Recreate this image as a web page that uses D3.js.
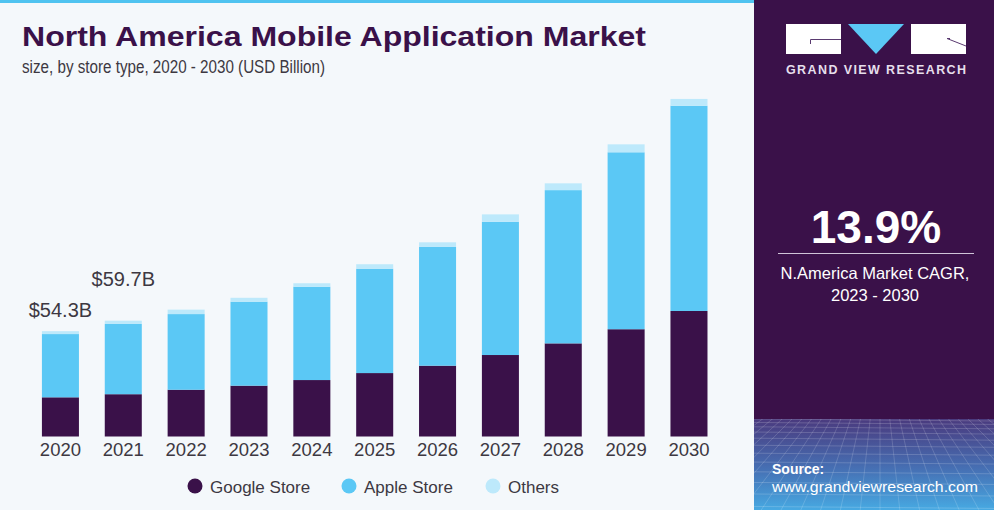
<!DOCTYPE html>
<html>
<head>
<meta charset="utf-8">
<script src="https://cdn.jsdelivr.net/npm/d3@7"></script>
<style>
  html, body { margin: 0; padding: 0; background: #f4f8fb; }
  svg { display: block; font-family: "Liberation Sans", Arial, sans-serif; }
</style>
</head>
<body>
<svg id="chart"></svg>
<script>
// Chart data (USD Billion)
const years = ['2020', '2021', '2022', '2023', '2024', '2025', '2026', '2027', '2028', '2029', '2030'];
const googleStore = [20.2, 21.8, 24.1, 26.2, 29.1, 32.7, 36.5, 42.0, 48.0, 55.3, 64.7];
const appleStore = [32.6, 36.2, 39.0, 43.3, 48.1, 53.8, 61.2, 68.7, 79.0, 91.2, 105.8];
const others = [1.5, 1.7, 2.3, 2.0, 1.8, 2.3, 2.4, 3.8, 3.5, 4.1, 3.5];
const seriesNames = ['Google Store', 'Apple Store', 'Others'];
const valueLabels = [{ year: '2020', text: '$54.3B' }, { year: '2021', text: '$59.7B' }];
const cagrValue = '13.9%';
const cagrText = ['N.America Market CAGR,', '2023 - 2030'];

const width = 994;
const height = 510;
const panelX = 754;
const colors = ['#3a1149', '#5bc8f5', '#bde9fb'];
const textColor = '#3d3842';

const svg = d3.select('#chart')
    .attr('width', width)
    .attr('height', height);

// backgrounds
svg.append('rect').attr('width', panelX).attr('height', height).attr('fill', '#f4f8fb');
svg.append('rect').attr('width', panelX).attr('height', 3).attr('fill', '#4fc3f0');
svg.append('rect').attr('x', panelX).attr('width', width - panelX).attr('height', height).attr('fill', '#3a1149');

// bottom of right panel: gradient + perspective mesh
const defs = svg.append('defs');
const grad = defs.append('linearGradient').attr('id', 'meshGrad').attr('x1', 0).attr('y1', 0).attr('x2', 0).attr('y2', 1);
grad.append('stop').attr('offset', '0%').attr('stop-color', '#4a3a7e');
grad.append('stop').attr('offset', '55%').attr('stop-color', '#4670b4');
grad.append('stop').attr('offset', '100%').attr('stop-color', '#47a9e2');
defs.append('clipPath').attr('id', 'meshClip')
    .append('rect').attr('x', panelX).attr('y', 419).attr('width', width - panelX).attr('height', height - 419);

const mesh = svg.append('g').attr('clip-path', 'url(#meshClip)');
mesh.append('rect').attr('x', panelX).attr('y', 419).attr('width', width - panelX).attr('height', height - 419)
    .attr('fill', 'url(#meshGrad)');
const rows = d3.range(0, 16).map(i => 419 + 3 * i + 0.45 * i * i);
mesh.selectAll('line.h')
    .data(rows)
    .enter()
    .append('line')
    .attr('x1', panelX).attr('x2', width)
    .attr('y1', d => d).attr('y2', d => d + 2)
    .attr('stroke', '#ffffff').attr('stroke-opacity', 0.22).attr('stroke-width', 0.8);
const vanishX = 880, vanishY = 330;
mesh.selectAll('line.v')
    .data(d3.range(-40, 41))
    .enter()
    .append('line')
    .attr('x1', vanishX).attr('y1', vanishY)
    .attr('x2', d => vanishX + d * 22).attr('y2', height + 20)
    .attr('stroke', '#ffffff').attr('stroke-opacity', 0.2).attr('stroke-width', 0.8);

// logo
const logo = svg.append('g');
logo.append('rect').attr('x', 786).attr('y', 24).attr('width', 55).attr('height', 30).attr('fill', '#ffffff');
logo.append('path').attr('d', 'M848,24 L904,24 L876,54 Z').attr('fill', '#5bc8f5');
logo.append('rect').attr('x', 911).attr('y', 24).attr('width', 55).attr('height', 30).attr('fill', '#ffffff');
logo.append('path').attr('d', 'M841,39.5 L810.5,39.5 L810.5,44').attr('fill', 'none').attr('stroke', '#5a3a70').attr('stroke-width', 1);
logo.append('path').attr('d', 'M947,38.5 L966,46 M947,38.5 L950,38.5').attr('fill', 'none').attr('stroke', '#5a3a70').attr('stroke-width', 1);
svg.append('text')
    .attr('x', 876).attr('y', 74)
    .attr('text-anchor', 'middle')
    .attr('fill', '#e6dfec')
    .attr('font-size', 12.5).attr('font-weight', 'bold')
    .attr('textLength', 180).attr('lengthAdjust', 'spacing')
    .text('GRAND VIEW RESEARCH');

// CAGR block
svg.append('text')
    .attr('x', 876).attr('y', 243)
    .attr('text-anchor', 'middle')
    .attr('fill', '#ffffff')
    .attr('font-size', 46).attr('font-weight', 'bold')
    .text(cagrValue);
svg.append('line')
    .attr('x1', 778).attr('x2', 974).attr('y1', 253.5).attr('y2', 253.5)
    .attr('stroke', '#cfc4d8').attr('stroke-width', 1.2);
svg.selectAll('text.cagr')
    .data(cagrText)
    .enter()
    .append('text')
    .attr('class', 'cagr')
    .attr('x', 875).attr('y', (d, i) => 278.5 + i * 22.5)
    .attr('text-anchor', 'middle')
    .attr('fill', '#ffffff')
    .attr('font-size', 16.5)
    .text(d => d);

// source
svg.append('text')
    .attr('x', 772).attr('y', 474)
    .attr('fill', '#ffffff').attr('font-size', 14).attr('font-weight', 'bold')
    .text('Source:');
svg.append('text')
    .attr('x', 772).attr('y', 492)
    .attr('fill', '#ffffff').attr('font-size', 14.5)
    .attr('textLength', 206).attr('lengthAdjust', 'spacingAndGlyphs')
    .text('www.grandviewresearch.com');

// title
svg.append('text')
    .attr('x', 22).attr('y', 46)
    .attr('fill', '#3a1149')
    .attr('font-size', 27).attr('font-weight', 900)
    .attr('textLength', 624).attr('lengthAdjust', 'spacingAndGlyphs')
    .text('North America Mobile Application Market');
svg.append('text')
    .attr('x', 22).attr('y', 73)
    .attr('fill', textColor)
    .attr('font-size', 18)
    .attr('font-family', '"Liberation Sans Narrow", "Arial Narrow", sans-serif')
    .attr('textLength', 303).attr('lengthAdjust', 'spacingAndGlyphs')
    .text('size, by store type, 2020 - 2030 (USD Billion)');

// scales
const x = d3.scaleBand()
    .domain(years)
    .range([29, 720.4])
    .paddingInner(0.411)
    .paddingOuter(0.2055);

const y = d3.scaleLinear()
    .domain([0, 180])
    .range([436.5, 436.5 - 180 * 1.94]);

// stack
const table = years.map((yr, i) => ({ year: yr, 'Google Store': googleStore[i], 'Apple Store': appleStore[i], 'Others': others[i] }));
const stacked = d3.stack().keys(seriesNames)(table);

svg.append('g')
    .selectAll('g')
    .data(stacked)
    .enter()
    .append('g')
    .attr('fill', (d, i) => colors[i])
    .selectAll('rect')
    .data(d => d)
    .enter()
    .append('rect')
    .attr('x', d => x(d.data.year))
    .attr('y', d => y(d[1]))
    .attr('width', x.bandwidth())
    .attr('height', d => y(d[0]) - y(d[1]));

// x axis labels
const xAxis = svg.append('g')
    .attr('transform', `translate(0, ${y(0)})`)
    .call(d3.axisBottom(x).tickSize(0).tickPadding(6));
xAxis.select('.domain').remove();
xAxis.selectAll('text')
    .attr('fill', textColor)
    .attr('font-size', 18.5)
    .attr('font-family', '"Liberation Sans", Arial, sans-serif');

// value labels above first bars
const labelGap = [14, 35];
svg.selectAll('text.value')
    .data(valueLabels)
    .enter()
    .append('text')
    .attr('class', 'value')
    .attr('x', d => x(d.year) + x.bandwidth() / 2)
    .attr('y', (d, i) => {
        const idx = years.indexOf(d.year);
        return y(googleStore[idx] + appleStore[idx] + others[idx]) - labelGap[i];
    })
    .attr('text-anchor', 'middle')
    .attr('fill', textColor)
    .attr('font-size', 20)
    .text(d => d.text);

// legend
const legendX = [195, 349, 493];
const legend = svg.append('g');
const items = legend.selectAll('g')
    .data(seriesNames)
    .enter()
    .append('g')
    .attr('transform', (d, i) => `translate(${legendX[i]}, 486)`);
items.append('circle').attr('r', 7.5).attr('fill', (d, i) => colors[i]);
items.append('text')
    .attr('x', 15).attr('y', 7)
    .attr('fill', textColor)
    .attr('font-size', 17)
    .text(d => d);
</script>
</body>
</html>
